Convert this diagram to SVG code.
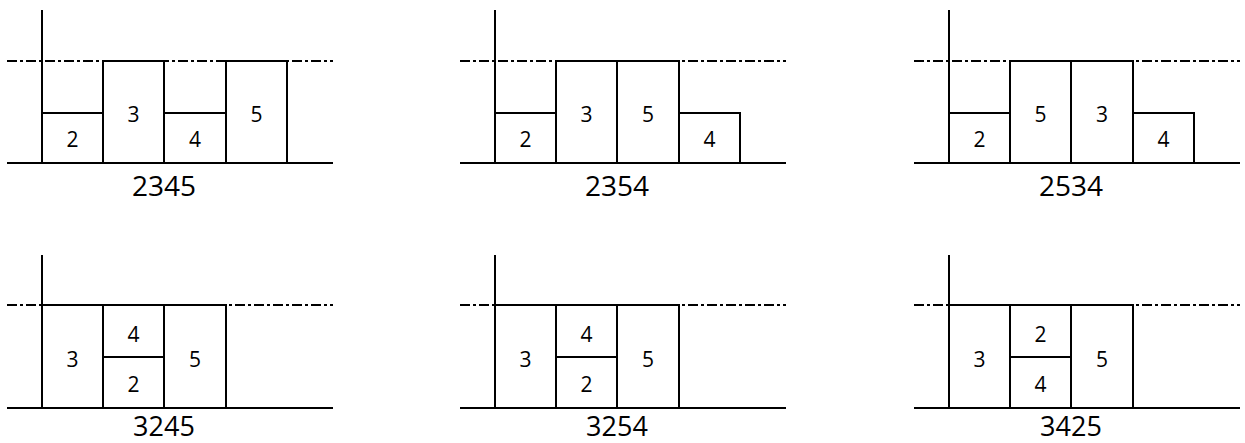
<svg xmlns="http://www.w3.org/2000/svg" width="1245" height="443" viewBox="0 0 1245 443">
<style>
.bg{fill:#fff}
.ax{stroke:#000;stroke-width:2;fill:none}
.dd{stroke:#000;stroke-width:2;fill:none;stroke-dasharray:10 3 3 3}
.bx{stroke:#000;stroke-width:2;fill:#fff}
.n{font-family:"Open Sans","Liberation Sans",sans-serif;font-size:21px;text-anchor:middle;fill:#000}
.lb{font-family:"Open Sans","Liberation Sans",sans-serif;font-size:28px;text-anchor:middle;fill:#000}
.lb2{font-family:"Open Sans","Liberation Sans",sans-serif;font-size:27px;text-anchor:middle;fill:#000}
</style>
<rect class="bg" width="1245" height="443"/>
<defs>
<g id="frame1">
<line class="dd" x1="7" y1="61" x2="333" y2="61"/>
<line class="ax" x1="42" y1="10" x2="42" y2="163"/>
<line class="ax" x1="7" y1="163" x2="333" y2="163"/>
</g>
<g id="frame2">
<line class="dd" x1="7" y1="305" x2="333" y2="305"/>
<line class="ax" x1="42" y1="255" x2="42" y2="408"/>
<line class="ax" x1="7" y1="408" x2="333" y2="408"/>
</g>
</defs>
<g id="p2345">
<use href="#frame1"/>
<rect class="bx" x="42" y="113" width="61" height="50"/>
<rect class="bx" x="103" y="61" width="61" height="102"/>
<rect class="bx" x="164" y="113" width="62" height="50"/>
<rect class="bx" x="226" y="61" width="61" height="102"/>
<text class="n" x="72.5" y="147">2</text>
<text class="n" x="133.5" y="122">3</text>
<text class="n" x="195" y="147">4</text>
<text class="n" x="256.5" y="122">5</text>
<text class="lb" x="164" y="196">2345</text>
</g>
<g id="p2354" transform="translate(453,0)">
<use href="#frame1"/>
<rect class="bx" x="42" y="113" width="61" height="50"/>
<rect class="bx" x="103" y="61" width="61" height="102"/>
<rect class="bx" x="164" y="61" width="62" height="102"/>
<rect class="bx" x="226" y="113" width="61" height="50"/>
<text class="n" x="72.5" y="147">2</text>
<text class="n" x="133.5" y="122">3</text>
<text class="n" x="195" y="122">5</text>
<text class="n" x="256.5" y="147">4</text>
<text class="lb" x="164" y="196">2354</text>
</g>
<g id="p2534" transform="translate(907,0)">
<use href="#frame1"/>
<rect class="bx" x="42" y="113" width="61" height="50"/>
<rect class="bx" x="103" y="61" width="61" height="102"/>
<rect class="bx" x="164" y="61" width="62" height="102"/>
<rect class="bx" x="226" y="113" width="61" height="50"/>
<text class="n" x="72.5" y="147">2</text>
<text class="n" x="133.5" y="122">5</text>
<text class="n" x="195" y="122">3</text>
<text class="n" x="256.5" y="147">4</text>
<text class="lb" x="164" y="196">2534</text>
</g>
<g id="p3245">
<use href="#frame2"/>
<rect class="bx" x="42" y="305" width="61" height="103"/>
<rect class="bx" x="103" y="305" width="61" height="52"/>
<rect class="bx" x="103" y="357" width="61" height="51"/>
<rect class="bx" x="164" y="305" width="62" height="103"/>
<text class="n" x="72.5" y="367">3</text>
<text class="n" x="133.5" y="342">4</text>
<text class="n" x="133.5" y="392">2</text>
<text class="n" x="195" y="367">5</text>
<text class="lb2" x="164" y="436">3245</text>
</g>
<g id="p3254" transform="translate(453,0)">
<use href="#frame2"/>
<rect class="bx" x="42" y="305" width="61" height="103"/>
<rect class="bx" x="103" y="305" width="61" height="52"/>
<rect class="bx" x="103" y="357" width="61" height="51"/>
<rect class="bx" x="164" y="305" width="62" height="103"/>
<text class="n" x="72.5" y="367">3</text>
<text class="n" x="133.5" y="342">4</text>
<text class="n" x="133.5" y="392">2</text>
<text class="n" x="195" y="367">5</text>
<text class="lb2" x="164" y="436">3254</text>
</g>
<g id="p3425" transform="translate(907,0)">
<use href="#frame2"/>
<rect class="bx" x="42" y="305" width="61" height="103"/>
<rect class="bx" x="103" y="305" width="61" height="52"/>
<rect class="bx" x="103" y="357" width="61" height="51"/>
<rect class="bx" x="164" y="305" width="62" height="103"/>
<text class="n" x="72.5" y="367">3</text>
<text class="n" x="133.5" y="342">2</text>
<text class="n" x="133.5" y="392">4</text>
<text class="n" x="195" y="367">5</text>
<text class="lb2" x="164" y="436">3425</text>
</g>
</svg>
